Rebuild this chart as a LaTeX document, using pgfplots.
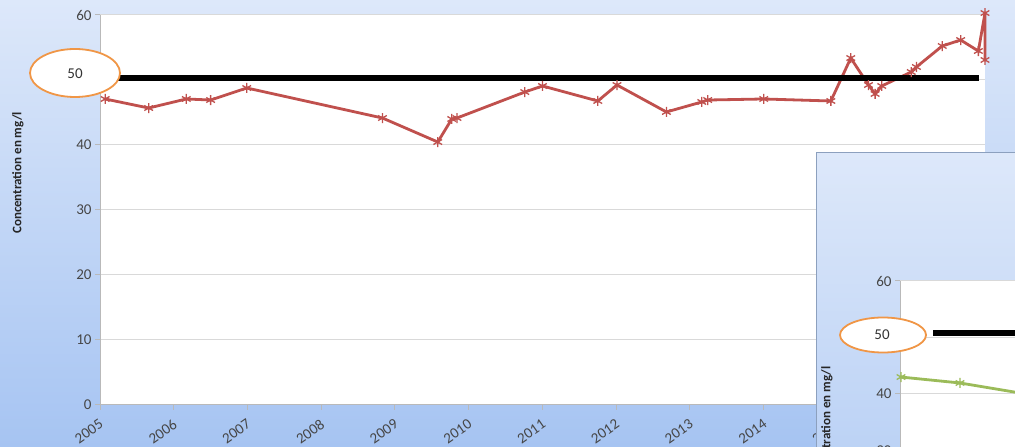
\documentclass[border=0pt]{standalone}
\usepackage{pgfplots}
\pgfplotsset{compat=1.18}
\usepackage{fontspec}
\setmainfont{Carlito}
\definecolor{bgtop}{RGB}{221,232,250}
\definecolor{bgbot}{RGB}{166,196,242}
\definecolor{redline}{RGB}{192,80,77}
\definecolor{greenline}{RGB}{155,187,89}
\definecolor{ellorange}{RGB}{240,150,70}
\definecolor{tickgray}{RGB}{70,70,70}
\definecolor{gridgray}{RGB}{217,217,217}
\definecolor{axisgray}{RGB}{185,185,185}
\definecolor{panelborder}{RGB}{140,160,190}

\pgfplotsset{
  excel/.style={
    scale only axis,
    ymin=0, ymax=60, ytick={0,10,...,60},
    clip=false,
    axis background/.style={fill=white},
    axis x line*=bottom, axis y line*=left,
    axis line style={axisgray, line width=1pt, -},
    ymajorgrids, grid style={gridgray, line width=1pt},
    tick style={axisgray, line width=1pt},
    major tick length=5pt, tick align=outside,
    tick label style={font=\fontsize{15}{17}\selectfont, text=tickgray},
    /pgf/number format/assume math mode=true,
  }
}

\begin{document}
\begin{tikzpicture}[x=1pt,y=1pt]
\begin{scope}
\clip (0,0) rectangle (1015,447);
\shade[top color=bgtop, bottom color=bgbot] (0,0) rectangle (1015,447);

% main chart
\begin{axis}[excel,
  width=885pt, height=390pt,
  at={(100pt,42pt)}, anchor=south west,
  xmin=2005, xmax=2017,
  xtick={2005,...,2016},
  xticklabels={2005,2006,2007,2008,2009,2010,2011,2012,2013,2014,2015,2016},
  xticklabel style={rotate=35, anchor=north east, inner sep=1pt, yshift=-5pt, xshift=-5pt},
]
\addplot[redline, line width=2.8pt, mark=asterisk, mark size=5pt,
  mark options={line width=1.3pt}] coordinates {
  (2005.07,47.08) (2005.66,45.69) (2006.17,47.08) (2006.50,46.92)
  (2006.99,48.77) (2008.83,44.15) (2009.58,40.46) (2009.77,44.00)
  (2009.84,44.15) (2010.76,48.15) (2011.00,49.08) (2011.75,46.77)
  (2012.01,49.23) (2012.68,45.08) (2013.16,46.62) (2013.24,46.92)
  (2014.00,47.08) (2014.91,46.77) (2015.18,53.38) (2015.42,49.23)
  (2015.51,47.85) (2015.60,49.08) (2016.00,51.23) (2016.07,52.00)
  (2016.42,55.23) (2016.67,56.15) (2016.91,54.46) (2017.00,60.30)
  (2017.00,53.08)
};
\addplot[black, line width=5.5pt] coordinates {(2005.24,50.3) (2016.92,50.3)};
\end{axis}

\draw[ellorange, line width=1.8pt, fill=white] (75,374) ellipse (45 and 24);
\node[font=\fontsize{15}{17}\selectfont, text=black!80] at (75,373) {50};
\node[rotate=90, font=\bfseries\fontsize{13}{15}\selectfont, text=black!85] at (18,274) {Concentration en mg/l};

% inset panel
\shade[top color=bgtop, bottom color=bgbot] (816,-200) rectangle (1040,294);
\draw[panelborder, line width=1pt] (816,-200) rectangle (1040,294);

\begin{axis}[excel,
  width=300pt, height=339pt,
  at={(900pt,166pt)}, anchor=north west,
  xmin=0, xmax=300, xtick=\empty,
]
\addplot[greenline, line width=2.8pt, mark=asterisk, mark size=5pt,
  mark options={line width=1.3pt}] coordinates {
  (1,43.0) (60,41.95) (150,39.3)
};
\addplot[black, line width=5.5pt] coordinates {(33,50.8) (300,50.8)};
\end{axis}

\draw[ellorange, line width=1.8pt, fill=white] (883,112) ellipse (43 and 17.5);
\node[font=\fontsize{15}{17}\selectfont, text=black!80] at (882,112) {50};
\node[rotate=90, anchor=east, font=\bfseries\fontsize{13}{15}\selectfont, text=black!85] at (827,84) {Concentration en mg/l};
\end{scope}
\pgfresetboundingbox
\useasboundingbox (0,0) rectangle (1015,447);
\end{tikzpicture}
\end{document}
